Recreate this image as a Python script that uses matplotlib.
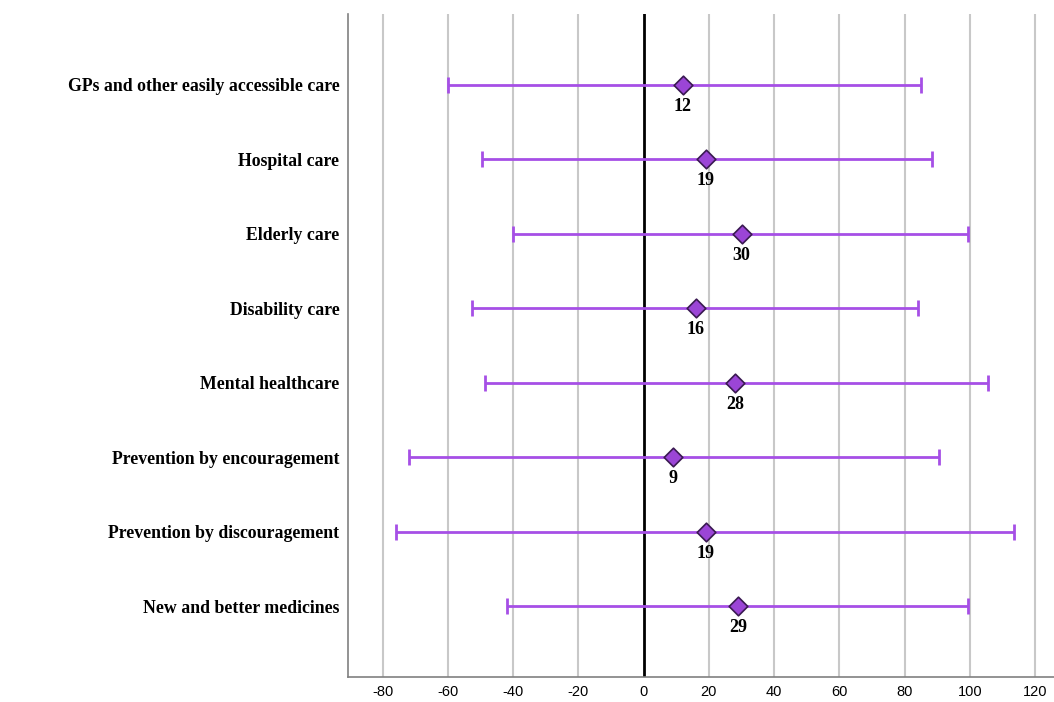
import matplotlib
matplotlib.use("Agg")
import matplotlib.pyplot as plt
import numpy as np

# categories, top to bottom
categories = [
    "GPs and other easily accessible care",
    "Hospital care",
    "Elderly care",
    "Disability care",
    "Mental healthcare",
    "Prevention by encouragement",
    "Prevention by discouragement",
    "New and better medicines",
]
means = [12, 19, 30, 16, 28, 9, 19, 29]
lower = [-60, -49.5, -40, -52.5, -48.5, -72, -76, -42]
upper = [85, 88.5, 99.5, 84, 105.5, 90.5, 113.5, 99.5]
xticks = [-80, -60, -40, -20, 0, 20, 40, 60, 80, 100, 120]

line_col = "#a64fe6"
face_col = "#9b45d6"

def main():
    fig = plt.figure(figsize=(10.54, 7.02), dpi=100)
    ax = fig.add_axes([0.330, 0.0356, 0.670, 0.9444])

    y = np.arange(len(categories))
    m = np.array(means)
    err = [m - np.array(lower), np.array(upper) - m]

    ax.errorbar(m, y, xerr=err, fmt="none", ecolor=line_col, elinewidth=2,
                capsize=5.8, capthick=2, zorder=3)
    ax.scatter(m, y, marker="D", s=90, facecolor=face_col, edgecolor="#3b1a52",
               linewidth=1.2, zorder=4)

    for xi, yi in zip(means, y):
        ax.annotate(str(xi), (xi, yi), xytext=(0, -15.5), textcoords="offset points",
                    ha="center", va="center", fontsize=13, fontweight="bold",
                    family=["Liberation Serif", "DejaVu Serif"], zorder=5)

    ax.axvline(0, color="black", linewidth=2, zorder=2)
    for t in xticks:
        if t != 0:
            ax.axvline(t, color="#c8c8c8", linewidth=1.5, zorder=1)

    ax.set_xlim(-90.7, 125.8)
    ax.set_ylim(len(categories) - 0.05, -0.95)
    ax.set_xticks(xticks)
    ax.set_xticklabels([str(t) for t in xticks], family=["Liberation Sans Narrow", "Liberation Sans"],
                       fontsize=10.5)
    ax.set_yticks(y)
    ax.set_yticklabels(categories, fontsize=12.8, fontweight="bold",
                       family=["Liberation Serif", "DejaVu Serif"])
    ax.tick_params(axis="both", length=0)
    ax.tick_params(axis="x", pad=6)
    ax.tick_params(axis="y", pad=6)

    for side in ["top", "right"]:
        ax.spines[side].set_visible(False)
    for side in ["left", "bottom"]:
        ax.spines[side].set_color("#808080")
        ax.spines[side].set_linewidth(1.2)

    fig.savefig("out.png", dpi=100)

if __name__ == "__main__":
    main()
